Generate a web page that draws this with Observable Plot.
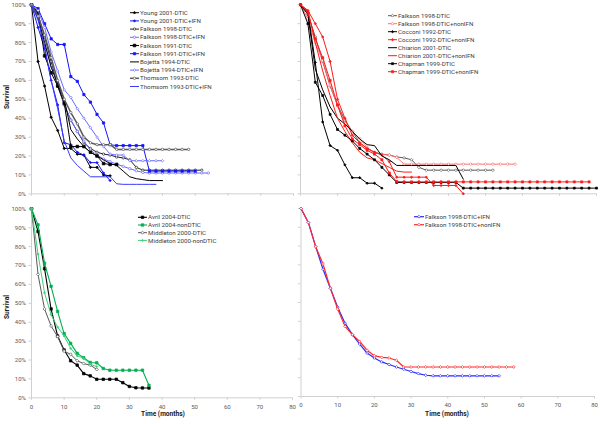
<!DOCTYPE html>
<html><head><meta charset="utf-8">
<script src="https://cdn.jsdelivr.net/npm/d3@7"></script>
<script src="https://cdn.jsdelivr.net/npm/@observablehq/plot@0.6"></script>
<style>
html,body{margin:0;padding:0;background:#fff;overflow:hidden}
#wrap{position:relative;width:600px;height:424px;font-family:Roboto,"Liberation Sans",sans-serif;overflow:hidden}
.lab{position:absolute;font-weight:bold;font-size:6.6px;color:#1a1a1a;white-space:nowrap;line-height:1}
</style></head><body><div id="wrap"></div>
<script>
// ---- tick labels / grids ----
const xTicks = [0, 10, 20, 30, 40, 50, 60, 70, 80];
const yTicks = [0, 0.1, 0.2, 0.3, 0.4, 0.5, 0.6, 0.7, 0.8, 0.9, 1];
const monthGrid = [0,2,4,6,8,10,12,14,16,18,20,22,24,26,28,30,32,34,36,38,40,42,44,46,48,50,52,54,56,58,60,62,64,66,68,70,72,74,76,78,80];

// ---- survival values (%) read at 2-month steps ----
const young2001DTIC     = [100,70,57,40.5,33.5,24,24,21,20.5,14,14,10,9.5];
const young2001IFN      = [100,88,77,60,47,27,26,22,20.5,16.5,16.5,11,7];
const falkson1998DTIC   = [100,95,83,70,57,47,39,33,27,24,22,21,20.5,19.5,19,18,14,12.5,12.5,12.5,12.5,12.5,12.5,12.5,12.5,12.5,12.5];
const falkson1998IFN    = [100,92.6,79.7,67.7,57.6,47.5,39,32.9,27.9,23.1,20.5,18.4,17,15.7,14.5,13.3,12.2,11.3,11,11,11,11,11,11,11,11,11,11];
const falkson1991DTIC   = [100,96,73,64,57,48,25,25,25,22,20,16,15.5,15.5];
const falkson1991IFN    = [100,98,90,82,79,79,62,59.5,52.5,48.5,42,37.5,26,25.5,25.5,25.5,25.5,25.5,12,12,12,12,12,12,12,12];
const bojetta1994DTIC   = [100,93,80,67,58,50,34,29,25,22,20,18,16,15,12,9,8,7.5,7,7,7];
const bojetta1994IFN    = [100,97,88,75,65,55,51,45,40,35,30,25,21,20.5,20.5,17.5,17.5,17.5,17.5,17.5,17.5];
const thomsom1993DTIC   = [100,94,84,72,60,50,43,37,30,27,26,26,26,23.5,23.5,23.5,23.5,23.5,23.5,23.5,23.5,23.5,23.5,23.5,23.5];
const thomsom1993IFN    = [100,92,78,60,45,28,19,15,12,9,9,9,9,5.3,5,5,5,5,5,5];

const falkson1998NonIFN = [100,92.6,79.7,70.5,57.6,46.5,37.3,32.9,29.3,24.6,21.7,20.8,20.5,19.3,15.7,15.7,15.7,15.7,15.7,15.7,15.7,15.7,15.7,15.7,15.7,15.7,15.7,15.7,15.7,15.7];
const cocconi1992DTIC   = [100,96,69.5,38,25.5,23,15.3,8.5,8.5,5.6,5.6,3];
const cocconi1992NonIFN = [100,97,90,83,70,50,40,31,27,24,22,20.5,17,8.8,8.8,8.8,8.8,8.8,4.4,4.4,4.4,4.4,0];
const chiarion2001DTIC  = [100,95,66,55,46,40,37,33,29,26,25.5,20,18,15,15,15,15,15,15,15,15,15,7.7];
const chiarion2001NonIFN= [100,97,80,65,52,40,33,27,22,19,18,16,14,12,11.5,11.5];
const chapman1999DTIC   = [100,90,59,52,42,34,31,28,24,21,18,14,10,6,6,6,6,6,6,6,6,6,3,3,3,3,3,3,3,3,3,3,3,3,3,3,3,3,3,3,3];
const chapman1999NonIFN = [100,96,82,72,60,47,36,29,26,23,21,18,11,6.5,6.3,6.3,6.3,6.3,6.3,6.3,6.3,6.3,6.3,6.3,6.3,6.3,6.3,6.3,6.3,6.3,6.3,6.3,6.3,6.3,6.3,6.3,6.3,6.3,6.3,6.3];

const avril2004DTIC      = [100,88,68.3,47,32.7,25.3,19.6,17.3,12.8,11.6,9.8,9.8,9.8,9.8,8,6,5.3,5.2,5.2];
const avril2004NonDTIC   = [100,91.5,71.2,59,45.7,34,28.8,23.5,21.2,18.7,18.5,15.5,14.6,14.6,14.6,14.6,14.6,14.6,6.6];
const middleton2000DTIC  = [100,65.3,47,38,32.4,24.7,23,19.6,18.1,17.3,15];
const middleton2000NonDTIC=[100,76,55.5,44,37.4,32.7,26.2,22.2,20.8,17.8,16.5];

// ---- series styling per panel ----
const BLACK="#000000", BLUE="#1414ff", LBLUE="#6a6aff", GRAY="#595959", RED="#ff1a1a", LRED="#ff7070", GREEN="#00b050", LGREEN="#3fd07a";
const panel1 = [
  {name:"Young 2001-DTIC", v:young2001DTIC, color:BLACK, w:1, symbol:"diamond2", r:1.2, filled:true},
  {name:"Young 2001-DTIC+IFN", v:young2001IFN, color:BLUE, w:1, symbol:"diamond2", r:1.1, filled:true},
  {name:"Falkson 1998-DTIC", v:falkson1998DTIC, color:"#222", w:1, symbol:"circle", r:1.2, filled:false},
  {name:"Falkson 1998-DTIC+IFN", v:falkson1998IFN, color:LBLUE, w:1, symbol:"circle", r:1.2, filled:false},
  {name:"Falkson 1991-DTIC", v:falkson1991DTIC, color:BLACK, w:1, symbol:"square", r:1.5, filled:true},
  {name:"Falkson 1991-DTIC+IFN", v:falkson1991IFN, color:BLUE, w:1, symbol:"square", r:1.3, filled:true},
  {name:"Bojetta 1994-DTIC", v:bojetta1994DTIC, color:BLACK, w:1},
  {name:"Bojetta 1994-DTIC+IFN", v:bojetta1994IFN, color:LBLUE, w:1, symbol:"diamond2", r:1.2, filled:false},
  {name:"Thomsom 1993-DTIC", v:thomsom1993DTIC, color:GRAY, w:1.5, symbol:"circle", r:1.2, filled:false},
  {name:"Thomsom 1993-DTIC+IFN", v:thomsom1993IFN, color:"#3a3aff", w:1}
];
const panel2 = [
  {name:"Falkson 1998-DTIC", v:falkson1998DTIC, color:GRAY, w:1, symbol:"diamond2", r:1.3, filled:false},
  {name:"Falkson 1998-DTIC+nonIFN", v:falkson1998NonIFN, color:LRED, w:1, symbol:"diamond2", r:1.3, filled:false},
  {name:"Cocconi 1992-DTIC", v:cocconi1992DTIC, color:BLACK, w:1, symbol:"diamond2", r:1.1, filled:true},
  {name:"Cocconi 1992-DTIC+nonIFN", v:cocconi1992NonIFN, color:RED, w:1, symbol:"diamond2", r:1.1, filled:true},
  {name:"Chiarion 2001-DTIC", v:chiarion2001DTIC, color:BLACK, w:1},
  {name:"Chiarion 2001-DTIC+nonIFN", v:chiarion2001NonIFN, color:RED, w:1},
  {name:"Chapman 1999-DTIC", v:chapman1999DTIC, color:BLACK, w:1, symbol:"square", r:1.1, filled:true},
  {name:"Chapman 1999-DTIC+nonIFN", v:chapman1999NonIFN, color:RED, w:1, symbol:"square", r:1.2, filled:true}
];
const panel3 = [
  {name:"Avril 2004-DTIC", v:avril2004DTIC, color:BLACK, w:1.1, symbol:"square", r:1.4, filled:true},
  {name:"Avril 2004-nonDTIC", v:avril2004NonDTIC, color:GREEN, w:1.1, symbol:"square", r:1.4, filled:true},
  {name:"Middleton 2000-DTIC", v:middleton2000DTIC, color:GRAY, w:1, symbol:"diamond2", r:1.4, filled:false},
  {name:"Middleton 2000-nonDTIC", v:middleton2000NonDTIC, color:LGREEN, w:1, symbol:"diamond2", r:1.0, filled:true}
];
const panel4 = [
  {name:"Falkson 1998-DTIC+IFN", v:falkson1998IFN, color:"#2a2aff", w:1.2, symbol:"diamond2", r:1.3, filled:false},
  {name:"Falkson 1998-DTIC+nonIFN", v:falkson1998NonIFN, color:"#ff2a2a", w:1.2, symbol:"diamond2", r:1.3, filled:false}
];

const AXIS = "#d0d0d0", TICKTXT = "#595959";
const wrap = document.getElementById("wrap");

function makePanel(series, o) {
  const marks = [
    Plot.ruleY([0], {stroke: AXIS}),
    Plot.ruleX([0], {stroke: AXIS}),
    Plot.axisX({ticks: xTicks, tickSize: 2.5, stroke: AXIS, fill: o.xLabels ? TICKTXT : "none", tickPadding: 4, fontSize: 6}),
    Plot.axisY({ticks: yTicks, tickSize: 2.5, stroke: AXIS, fill: o.yLabels ? TICKTXT : "none", tickPadding: 3, fontSize: 6, tickFormat: d => Math.round(d * 100) + "%"})
  ];
  for (const s of series) {
    const rows = s.v.map((v, i) => ({t: monthGrid[i], v: v / 100}));
    marks.push(Plot.line(rows, {x: "t", y: "v", stroke: s.color, strokeWidth: s.w}));
    if (s.symbol) marks.push(Plot.dot(rows, {x: "t", y: "v", symbol: s.symbol, r: s.r, fill: s.filled ? s.color : "white", stroke: s.color, strokeWidth: 0.7}));
  }
  const svg = Plot.plot({
    width: o.width, height: o.height,
    marginLeft: o.ml, marginRight: o.mr, marginTop: o.mt, marginBottom: o.mb,
    x: {domain: [0, 80], label: null},
    y: {domain: [0, 1], label: null},
    style: {fontFamily: "Roboto, 'Liberation Sans', sans-serif", fontSize: "6px", background: "transparent", overflow: "visible"},
    marks
  });
  svg.style.position = "absolute";
  svg.style.left = o.left + "px";
  svg.style.top = o.top + "px";
  wrap.appendChild(svg);
}

makePanel(panel1, {left: 0, top: 0, width: 300, height: 200, ml: 31, mr: 7, mt: 4.3, mb: 6.7, yLabels: true, xLabels: false});
makePanel(panel2, {left: 290, top: 0, width: 310, height: 200, ml: 10, mr: 4, mt: 4.3, mb: 6.7, yLabels: false, xLabels: false});
makePanel(panel3, {left: 0, top: 204, width: 300, height: 220, ml: 31, mr: 8, mt: 4.3, mb: 26.7, yLabels: true, xLabels: true});
makePanel(panel4, {left: 290, top: 204, width: 310, height: 220, ml: 10.5, mr: 6, mt: 4, mb: 28, yLabels: false, xLabels: true});

// ---- legends (overlay) ----
const ov = d3.select(wrap).append("svg").attr("width", 600).attr("height", 424)
  .style("position", "absolute").style("left", 0).style("top", 0).style("pointer-events", "none");
const symMap = {diamond2: d3.symbolDiamond2, square: d3.symbolSquare, circle: d3.symbolCircle};
function legend(series, x0, y0, step, sw) {
  series.forEach((s, i) => {
    const y = y0 + i * step;
    ov.append("line").attr("x1", x0).attr("x2", x0 + sw).attr("y1", y).attr("y2", y)
      .attr("stroke", s.color).attr("stroke-width", s.w);
    if (s.symbol) ov.append("path").attr("d", d3.symbol(symMap[s.symbol], Math.PI * s.r * s.r)())
      .attr("transform", `translate(${x0 + sw / 2},${y})`)
      .attr("fill", s.filled ? s.color : "#fff").attr("stroke", s.color).attr("stroke-width", 0.7);
    ov.append("text").attr("x", x0 + sw + 1).attr("y", y).attr("dy", "0.35em")
      .attr("font-size", 6.2).attr("font-family", "Roboto, 'Liberation Sans', sans-serif")
      .attr("fill", "#404040").text(s.name);
  });
}
legend(panel1, 130, 12.7, 8.2, 9);
legend(panel2, 388, 15.7, 8, 9);
legend(panel3, 138, 217.3, 7.7, 9);
legend(panel4, 414, 216.7, 8, 10);

// ---- axis titles ----
function lab(text, x, y, rot) {
  const d = document.createElement("div");
  d.className = "lab"; d.textContent = text;
  d.style.left = x + "px"; d.style.top = y + "px";
  d.style.transform = `translate(-50%,-50%)` + (rot ? ` rotate(${rot}deg)` : "");
  wrap.appendChild(d);
}
lab("Survival", 6.5, 97, -90);
lab("Survival", 6.5, 307, -90);
lab("Time (months)", 163, 414, 0);
lab("Time (months)", 447, 414, 0);
</script></body></html>
